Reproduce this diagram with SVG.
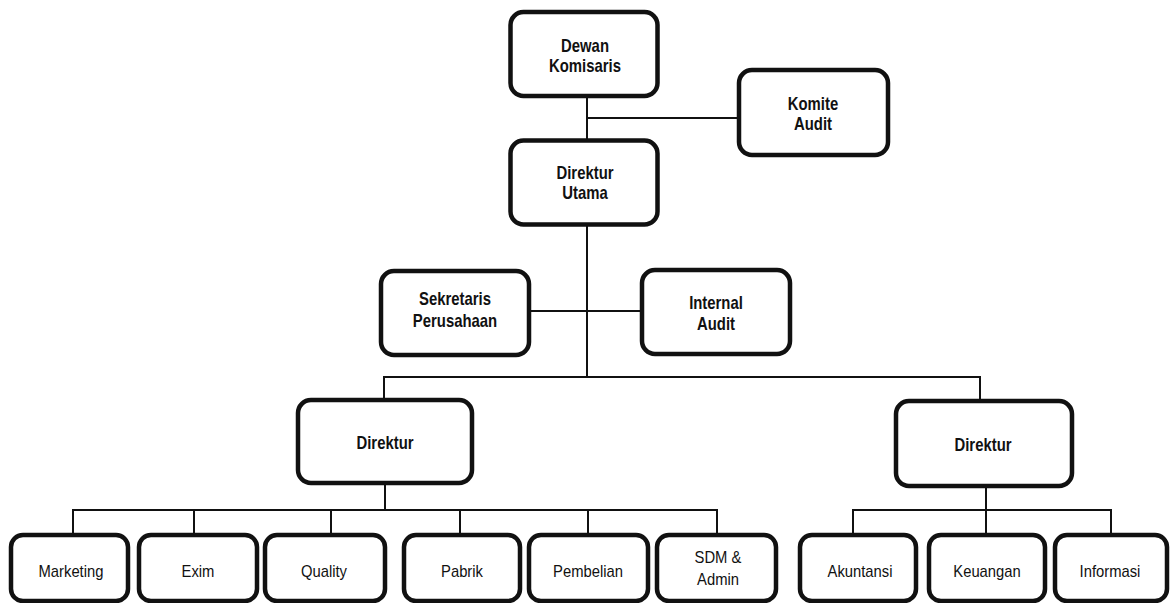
<svg xmlns="http://www.w3.org/2000/svg" width="1170" height="603" viewBox="0 0 1170 603">
<style>
.box{fill:#fff;stroke:#111;stroke-width:4.5}
.ln{stroke:#111;stroke-width:2;fill:none}
.b{font-family:"Liberation Sans",Arial,sans-serif;font-weight:bold;font-size:17.5px;text-anchor:middle;fill:#111}
.r{font-family:"Liberation Sans",Arial,sans-serif;font-size:17px;text-anchor:middle;fill:#111}
</style>
<rect width="1170" height="603" fill="#fff"/>
<g id="connectors">
<path class="ln" d="M587 96V377M587 118H739M529 311H642M384 400V377H980V401M385 483V510M73 535V510H717V535M194 510V535M331 510V535M460 510V535M588 510V535M986 486V535M853 535V510H1111V535"/>
</g>
<g id="dewan"><rect class="box" x="510.5" y="12" width="147" height="84" rx="13"/><text class="b" transform="translate(585 52) scale(0.85 1)">Dewan</text><text class="b" transform="translate(585 72) scale(0.85 1)">Komisaris</text></g>
<g id="komite"><rect class="box" x="739" y="70" width="149" height="85" rx="13"/><text class="b" transform="translate(813 110) scale(0.85 1)">Komite</text><text class="b" transform="translate(813 130) scale(0.85 1)">Audit</text></g>
<g id="dirut"><rect class="box" x="510.5" y="140.5" width="147" height="84" rx="13"/><text class="b" transform="translate(585 179) scale(0.85 1)">Direktur</text><text class="b" transform="translate(585 199) scale(0.85 1)">Utama</text></g>
<g id="sekretaris"><rect class="box" x="381" y="271" width="148" height="84" rx="13"/><text class="b" transform="translate(455 305) scale(0.85 1)">Sekretaris</text><text class="b" transform="translate(455 327) scale(0.85 1)">Perusahaan</text></g>
<g id="internal"><rect class="box" x="642" y="270" width="148" height="84" rx="13"/><text class="b" transform="translate(716 309) scale(0.85 1)">Internal</text><text class="b" transform="translate(716 330) scale(0.85 1)">Audit</text></g>
<g id="direktur1"><rect class="box" x="298" y="400" width="174" height="83" rx="13"/><text class="b" transform="translate(385 449) scale(0.85 1)">Direktur</text></g>
<g id="direktur2"><rect class="box" x="896" y="401" width="176" height="85" rx="13"/><text class="b" transform="translate(983 451) scale(0.85 1)">Direktur</text></g>
<g id="marketing"><rect class="box" x="11" y="535" width="117" height="66" rx="12"/><text class="r" transform="translate(71 577) scale(0.87 1)">Marketing</text></g>
<g id="exim"><rect class="box" x="139" y="535" width="118" height="66" rx="12"/><text class="r" transform="translate(198 577) scale(0.87 1)">Exim</text></g>
<g id="quality"><rect class="box" x="265" y="535" width="120" height="66" rx="12"/><text class="r" transform="translate(324 577) scale(0.87 1)">Quality</text></g>
<g id="pabrik"><rect class="box" x="404" y="535" width="116" height="66" rx="12"/><text class="r" transform="translate(462 577) scale(0.87 1)">Pabrik</text></g>
<g id="pembelian"><rect class="box" x="529" y="535" width="119" height="66" rx="12"/><text class="r" transform="translate(588 577) scale(0.87 1)">Pembelian</text></g>
<g id="sdm"><rect class="box" x="657" y="535" width="119" height="66" rx="12"/><text class="r" transform="translate(718 563) scale(0.87 1)">SDM &amp;</text><text class="r" transform="translate(718 585) scale(0.87 1)">Admin</text></g>
<g id="akuntansi"><rect class="box" x="800" y="535" width="116" height="66" rx="12"/><text class="r" transform="translate(860 577) scale(0.87 1)">Akuntansi</text></g>
<g id="keuangan"><rect class="box" x="929" y="535" width="116" height="66" rx="12"/><text class="r" transform="translate(987 577) scale(0.87 1)">Keuangan</text></g>
<g id="informasi"><rect class="box" x="1055" y="535" width="112" height="66" rx="12"/><text class="r" transform="translate(1110 577) scale(0.87 1)">Informasi</text></g>
</svg>
